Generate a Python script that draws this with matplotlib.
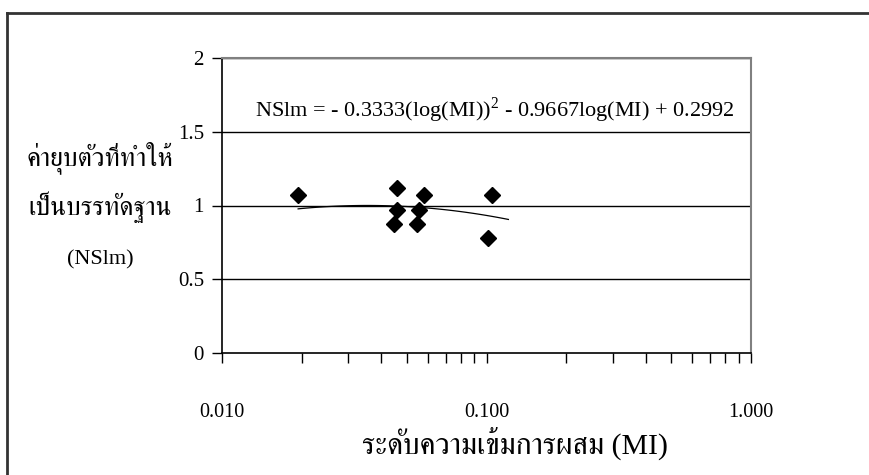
import numpy as np
import matplotlib
matplotlib.use("Agg")
import matplotlib.pyplot as plt
from matplotlib import font_manager
from matplotlib.ft2font import FT2Font
from matplotlib.ticker import LogLocator, FixedLocator, NullFormatter

# data
mi = [0.0194, 0.0460, 0.0460, 0.0448, 0.0582, 0.0558, 0.0544, 0.1045, 0.1017]
nslm = [1.072, 1.120, 0.970, 0.875, 1.072, 0.970, 0.875, 1.072, 0.780]

# trend line: NSlm = a*(log MI)^2 + b*log MI + c
coef = [-0.3333, -0.9667, 0.2992]
trend_range = [0.0194, 0.121]

y_ticks = [0, 0.5, 1, 1.5, 2]
y_ticklabels = ["0", "0.5", "1", "1.5", "2"]
x_ticks = [0.01, 0.1, 1.0]
x_ticklabels = ["0.010", "0.100", "1.000"]

ylabel_lines = ["ค่ายุบตัวที่ทำให้", "เป็นบรรทัดฐาน", "(NSlm)"]
xlabel = "ระดับความเข้มการผสม (MI)"


def find_thai_fonts():
    found = []
    for f in font_manager.fontManager.ttflist:
        try:
            cmap = FT2Font(f.fname).get_charmap()
        except Exception:
            continue
        if 0x0E04 in cmap and f.name not in found:
            found.append(f.name)
    # serif-looking Thai faces first, if there are any
    found.sort(key=lambda n: 0 if ("Serif" in n or "Norasi" in n) else 1)
    return found


thai = find_thai_fonts()
serif = "Liberation Serif"
thai_family = [serif] + thai + ["DejaVu Sans"]

plt.rcParams["font.family"] = [serif, "DejaVu Sans"]
plt.rcParams["mathtext.fontset"] = "custom"
plt.rcParams["mathtext.rm"] = serif

fig = plt.figure(figsize=(8.69, 4.75), dpi=100)
ax = fig.add_axes([222 / 869, 1 - 353 / 475, 529 / 869, 295 / 475])

ax.set_xscale("log")
ax.set_xlim(0.01, 1.0)
ax.set_ylim(0, 2)

for yv in y_ticks[1:]:
    ax.axhline(yv, color="black", lw=1, zorder=1)

ax.plot(mi, nslm, linestyle="none", marker="D", markersize=8,
        color="black", zorder=3)

xt = np.logspace(np.log10(trend_range[0]), np.log10(trend_range[1]), 100)
lx = np.log10(xt)
ax.plot(xt, coef[0] * lx ** 2 + coef[1] * lx + coef[2], color="black",
        lw=0.9, zorder=2)

for side in ["top", "right"]:
    ax.spines[side].set_color("#808080")
    ax.spines[side].set_linewidth(1.5)
for side in ["left", "bottom"]:
    ax.spines[side].set_color("black")
    ax.spines[side].set_linewidth(1.2)

ax.set_yticks(y_ticks)
ax.set_yticklabels(y_ticklabels)
ax.xaxis.set_major_locator(FixedLocator(x_ticks))
ax.set_xticklabels(x_ticklabels)
ax.xaxis.set_minor_locator(LogLocator(base=10, subs=np.arange(2, 10)))
ax.xaxis.set_minor_formatter(NullFormatter())
ax.tick_params(axis="y", direction="out", length=7, width=1, pad=6,
               labelsize=15)
ax.tick_params(axis="x", which="both", direction="out", length=7, width=1,
               pad=29, labelsize=14.5)

ax.text(0.063, 0.824,
        r"NSlm = - 0.3333(log(MI))$^{2}$ - 0.9667log(MI) + 0.2992",
        transform=ax.transAxes, fontsize=16, va="center", ha="left")

fig.text(515 / 869, 1 - 443 / 475, xlabel, ha="center", va="center",
         fontsize=21.5, family=thai_family)
ypos = [158, 207, 260]
ysize = [19, 19, 16]
for line, yp, fs in zip(ylabel_lines, ypos, ysize):
    fig.text(100 / 869, 1 - yp / 475, line, ha="center", va="center",
             fontsize=fs, family=thai_family)

# outer frame (only left and top edges are visible)
fig.add_artist(plt.Line2D([7 / 869, 7 / 869], [0, 1 - 13 / 475],
                          transform=fig.transFigure, color="#333333", lw=2))
fig.add_artist(plt.Line2D([7 / 869, 1], [1 - 13 / 475, 1 - 13 / 475],
                          transform=fig.transFigure, color="#333333", lw=2))

fig.savefig("out.png", dpi=100)
